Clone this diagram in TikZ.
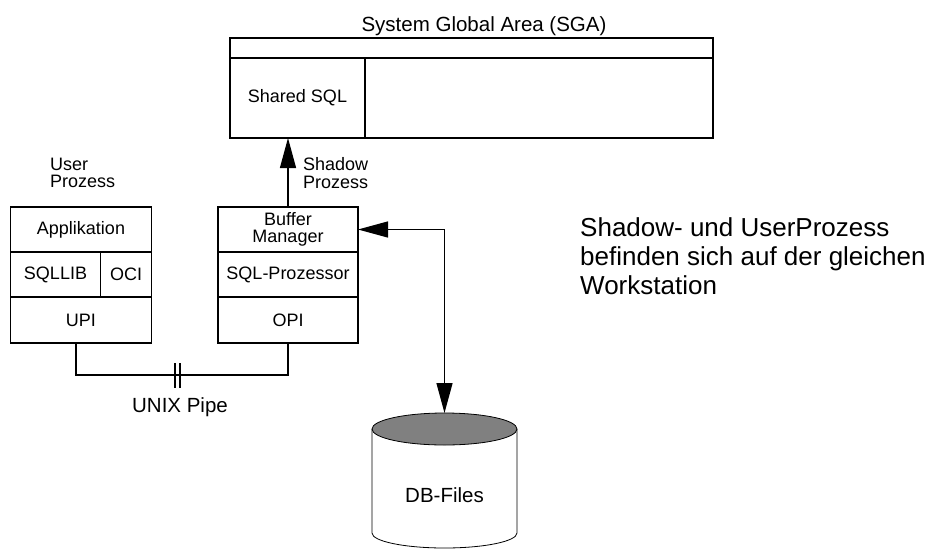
\documentclass[tikz,border=0pt]{standalone}
\usepackage{fontspec}
\setmainfont{Liberation Sans}
\usepackage{tikz}
\usetikzlibrary{positioning, arrows.meta, calc}

\newcommand{\lblfont}{\fontsize{18}{17.7}\selectfont}
\newcommand{\midfont}{\fontsize{20.5}{22}\selectfont}
\newcommand{\bigfont}{\fontsize{26}{29}\selectfont}

\tikzset{bigtip/.tip={Triangle[length=30pt, width=16pt]}}

\begin{document}
\begin{tikzpicture}[x=1pt, y=-1pt,
	cell/.style={draw, line width=1.5pt, inner sep=0pt, outer sep=0pt, font=\lblfont, align=center},
	conn/.style={line width=1.3pt},
	lbl/.style={inner sep=0pt, align=left, font=\lblfont}]
	\useasboundingbox (0,0) rectangle (934,549);
	
	\node[cell, minimum width=483pt, minimum height=20pt] (sgatop) at (471.5,48) {};
	\node[cell, minimum width=135pt, minimum height=80pt, anchor=north west] (sharedsql) at (sgatop.south west) {Shared SQL};
	\node[cell, minimum width=348pt, minimum height=80pt, anchor=north west] (sgarest) at (sharedsql.north east) {};
	\node[inner sep=0pt, font=\midfont, anchor=base] (sgatitle) at (484,31) {System Global Area (SGA)};
	
	\node[cell, minimum width=141pt, minimum height=45pt] (appl) at (81,229.5) {Applikation};
	\node[cell, minimum width=90pt, minimum height=45pt, anchor=north west] (sqllib) at (appl.south west) {SQLLIB};
	\node[cell, minimum width=51pt, minimum height=45pt, anchor=north west] (oci) at (sqllib.north east) {OCI};
	\node[cell, minimum width=141pt, minimum height=46pt, anchor=north west] (upi) at (sqllib.south west) {UPI};
	\node[lbl, anchor=west] (userlbl) at (50,173) {User\\Prozess};
	
	\node[cell, minimum width=140pt, minimum height=45pt] (bufmgr) at (288,229.5) {Buffer\\Manager};
	\node[cell, minimum width=140pt, minimum height=45pt, below=0pt of bufmgr] (sqlproz) {SQL-Prozessor};
	\node[cell, minimum width=140pt, minimum height=46pt, below=0pt of sqlproz] (opi) {OPI};
	\node[lbl, anchor=west] (shadowlbl) at (303,173) {Shadow\\Prozess};
	
	\draw[conn, -bigtip] (bufmgr.north) -- (bufmgr.north |- sharedsql.south);
	
	\draw[conn] ($(upi.south)+(-5,0)$) -- ++(0,32) -| (opi.south);
	\coordinate (pipebar) at (177.5,375);
	\draw[conn] ($(pipebar)+(-2.5,-12)$) -- ++(0,25) ($(pipebar)+(2.5,-12)$) -- ++(0,25);
	\node[inner sep=0pt, font=\midfont, anchor=base] (pipelbl) at (180,412) {UNIX Pipe};
	
	\filldraw[line width=0.8pt, fill=white] (372,429) -- (372,533) arc[start angle=180, end angle=0, x radius=72.5, y radius=15] -- (517,429);
	\filldraw[line width=0.8pt, fill=gray] (444.5,429) ellipse[x radius=72.5, y radius=16];
	\coordinate (dbtop) at (444.5,413);
	\node[inner sep=0pt, font=\midfont] (dbfiles) at (444.5,495) {DB-Files};
	
	\draw[conn, bigtip-bigtip] (bufmgr.east) -| (dbtop);
	
	\node[inner sep=0pt, align=left, font=\bigfont, anchor=north west] (note) at (580,217) {Shadow- und UserProzess\\befinden sich auf der gleichen\\Workstation};
\end{tikzpicture}
\end{document}
